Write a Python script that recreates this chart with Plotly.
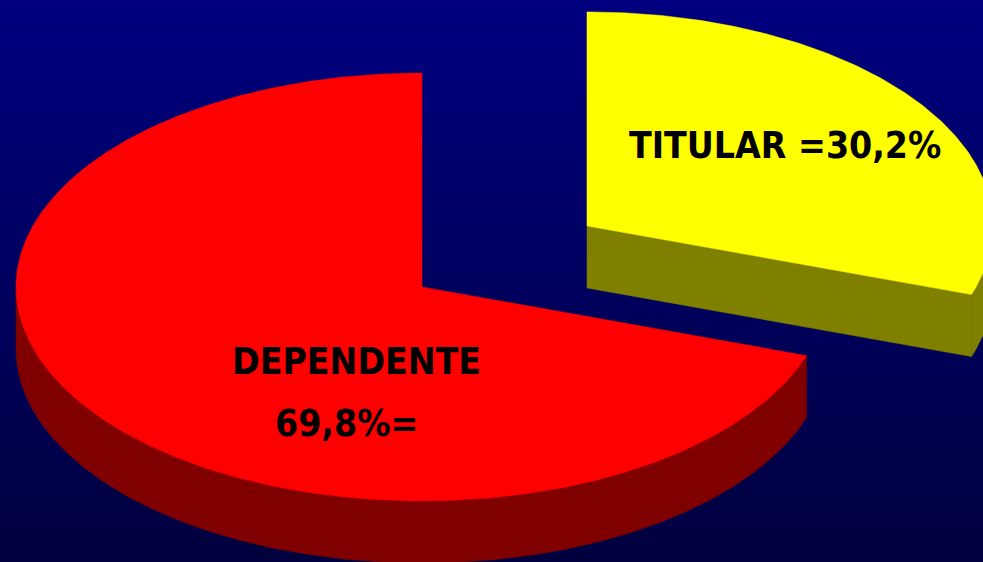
import numpy as np
import plotly.graph_objects as go

# ---- data ----
labels = ["TITULAR", "DEPENDENTE"]
values = [30.2, 69.8]
value_text = ["30,2%", "69,8%"]

# ---- style ----
top_colors = ["#FFFF00", "#FF0000"]
side_colors = ["#808000", "#800000"]
pulls = [0.5, 0.0]
pull_y_scale = 0.98
W, H = 983, 562
cx, cy = 422, 287
rx, ry = 406, 214
depth = 62
FONT = "DejaVu Sans Condensed, Liberation Sans Narrow, Arial Narrow, sans-serif"

total = float(sum(values))
fig = go.Figure()


def arc(a_from, a_to, ox, oy, dz=0.0, n=None):
    if n is None:
        n = max(8, int(abs(a_to - a_from) * 2))
    th = np.radians(np.linspace(a_from, a_to, n))
    return list(ox + rx * np.cos(th)), list(oy - ry * np.sin(th) + dz)


def poly(xs, ys, color):
    fig.add_trace(go.Scatter(x=xs + [xs[0]], y=ys + [ys[0]], mode="lines", fill="toself",
                             fillcolor=color, line=dict(width=0.5, color=color),
                             hoverinfo="skip", showlegend=False))


slices = []
cum = 0.0
for i, v in enumerate(values):
    a0 = 90 - 360 * cum / total
    a1 = 90 - 360 * (cum + v) / total
    cum += v
    mid = np.radians((a0 + a1) / 2)
    ox = cx + pulls[i] * rx * np.cos(mid)
    oy = cy - pulls[i] * ry * pull_y_scale * np.sin(mid)
    slices.append((i, a0, a1, ox, oy))

# draw back-to-front
for i, a0, a1, ox, oy in sorted(slices, key=lambda s: s[4]):
    for k in (-1, 0, 1):
        lo = max(a1, -180 + 360 * k)
        hi = min(a0, 360 * k)
        if hi > lo:
            tx, ty = arc(lo, hi, ox, oy)
            bx, by = arc(hi, lo, ox, oy, depth)
            poly(tx + bx, ty + by, side_colors[i])
    for a, vis in ((a1, np.cos(np.radians(a1)) > 1e-6), (a0, np.cos(np.radians(a0)) < -1e-6)):
        if vis:
            ex = ox + rx * np.cos(np.radians(a))
            ey = oy - ry * np.sin(np.radians(a))
            poly([ox, ex, ex, ox], [oy, ey, ey + depth, oy + depth], side_colors[i])
    tx, ty = arc(a0, a1, ox, oy)
    poly([ox] + tx, [oy] + ty, top_colors[i])

# labels
fs = 37
fig.add_annotation(x=785, y=145, text=f"<b>{labels[0]} ={value_text[0]}</b>", showarrow=False,
                   font=dict(family=FONT, size=fs, color="black"), xanchor="center", yanchor="middle")
fig.add_annotation(x=356, y=361, text=f"<b>{labels[1]}</b>", showarrow=False,
                   font=dict(family=FONT, size=fs, color="black"), xanchor="center", yanchor="middle")
fig.add_annotation(x=346, y=423, text=f"<b>{value_text[1]}=</b>", showarrow=False,
                   font=dict(family=FONT, size=fs, color="black"), xanchor="center", yanchor="middle")

# background gradient
shapes = []
n = 90
for j in range(n):
    t = j / (n - 1)
    b = round(128 - 66 * t)
    shapes.append(dict(type="rect", xref="paper", yref="paper", x0=0, x1=1,
                       y0=1 - (j + 1) / n - 0.002, y1=1 - j / n,
                       fillcolor=f"rgb(0,0,{b})", line=dict(width=0), layer="below"))

fig.update_layout(
    width=W, height=H, margin=dict(l=0, r=0, t=0, b=0),
    paper_bgcolor="#000060", plot_bgcolor="rgba(0,0,0,0)",
    shapes=shapes,
    xaxis=dict(range=[0, W], visible=False, fixedrange=True),
    yaxis=dict(range=[H, 0], visible=False, fixedrange=True),
    showlegend=False,
)

fig.write_html("out.html", config={"displayModeBar": False})
